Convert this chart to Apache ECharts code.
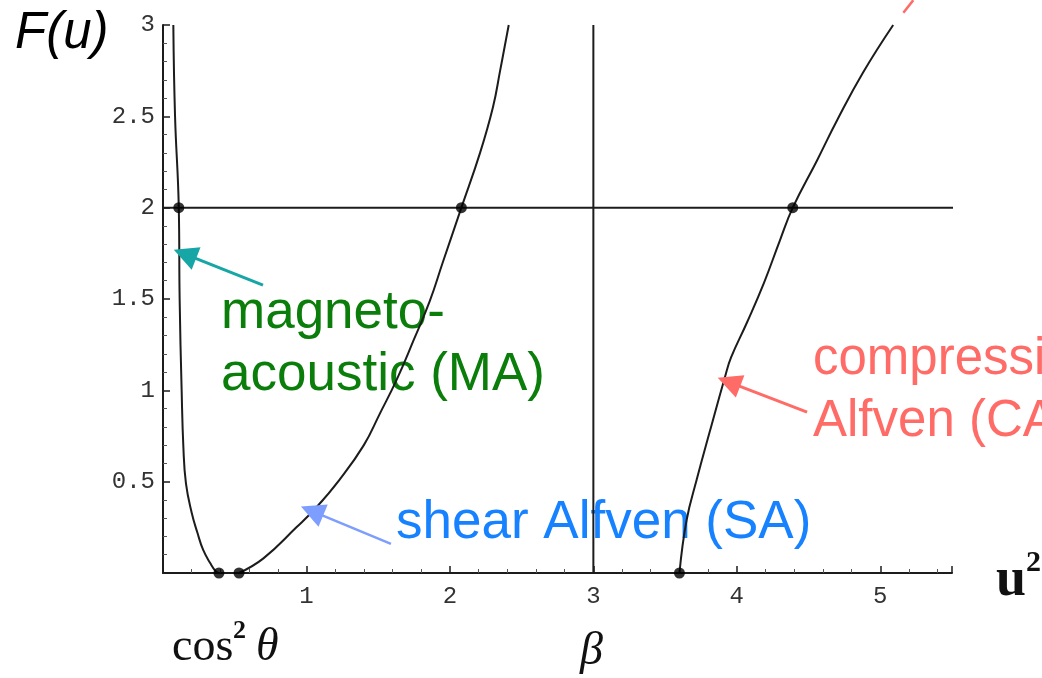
<!DOCTYPE html>
<html>
<head>
<meta charset="utf-8">
<script src="https://cdn.jsdelivr.net/npm/echarts@6/dist/echarts.min.js"></script>
<style>
  html, body { margin: 0; padding: 0; background: #fff; }
  #chart { width: 1042px; height: 678px; }
</style>
</head>
<body>
<div id="chart"></div>
<script>
// Dispersion function F(u) against u^2 — three wave branches.
const maCurve = [[0.072, 3.0], [0.084, 2.5], [0.11, 2.0], [0.116, 1.5], [0.13, 1.0], [0.142, 0.69],
  [0.16, 0.49], [0.20, 0.33], [0.24, 0.22], [0.28, 0.126], [0.33, 0.053], [0.37, 0.007], [0.39, 0]];
const saCurve = [[0.53, 0], [0.70, 0.08], [0.93, 0.25], [1.07, 0.36], [1.23, 0.51], [1.40, 0.70],
  [1.51, 0.87], [1.63, 1.06], [1.75, 1.28], [1.86, 1.49], [1.95, 1.70], [2.08, 2.0], [2.21, 2.30],
  [2.30, 2.55], [2.35, 2.75], [2.41, 3.0]];
const caCurve = [[3.60, 0], [3.65, 0.29], [3.72, 0.51], [3.81, 0.77], [3.92, 1.08], [3.96, 1.18],
  [4.07, 1.37], [4.19, 1.59], [4.30, 1.82], [4.39, 2.0], [4.56, 2.26], [4.70, 2.48], [4.88, 2.74], [5.09, 3.0]];
const keyPoints = [[0.39, 0], [0.53, 0], [3.60, 0], [0.11, 2], [2.08, 2], [4.39, 2]];
const betaValue = 3;
const fLevel = 2;
const xTicks = [0, 1, 2, 3, 4, 5];
const yTicks = [0, 0.5, 1, 1.5, 2, 2.5, 3];

// Annotation arrows: [tail, head] in data coordinates
const maArrow = [[0.697, 1.576], [0.153, 1.746]];
const saArrow = [[1.589, 0.159], [1.039, 0.339]];
const caArrow = [[4.49, 0.881], [3.945, 1.045]];
const topArrowPiece = [[5.161, 3.067], [5.23, 3.136]];

const ink = '#1c1c1c';
const monoLabel = { fontFamily: '"Liberation Mono", monospace', fontSize: 24, color: '#333' };

function curveSeries(data) {
  return {
    type: 'line', data: data, smooth: 0.45, showSymbol: false,
    lineStyle: { color: ink, width: 2 }, silent: true
  };
}
function arrowLine(pair, color, width, size) {
  return [
    { coord: pair[0], symbol: 'none', lineStyle: { color: color, width: width, type: 'solid' } },
    { coord: pair[1], symbol: 'triangle', symbolSize: size,
      itemStyle: { color: color }, lineStyle: { color: color, width: width, type: 'solid' } }
  ];
}

const chart = echarts.init(document.getElementById('chart'), null, { renderer: 'canvas' });

chart.setOption({
  animation: false,
  backgroundColor: '#ffffff',
  grid: { left: 163, right: 90, top: 25, bottom: 105 },
  xAxis: {
    type: 'value', min: xTicks[0], max: 5.5, interval: 1,
    axisLine: { show: true, lineStyle: { color: ink, width: 2 } },
    axisTick: { show: true, inside: true, length: 7, lineStyle: { color: ink, width: 1.5 } },
    minorTick: { show: true, splitNumber: 5, length: 4, lineStyle: { color: '#555', width: 1 } },
    splitLine: { show: false },
    axisLabel: Object.assign({ showMinLabel: false, showMaxLabel: false, margin: 12 }, monoLabel)
  },
  yAxis: {
    type: 'value', min: yTicks[0], max: yTicks[yTicks.length - 1], interval: 0.5,
    axisLine: { show: true, lineStyle: { color: ink, width: 2 } },
    axisTick: { show: true, inside: true, length: 7, lineStyle: { color: ink, width: 1.5 } },
    minorTick: { show: true, splitNumber: 5, length: 4, lineStyle: { color: '#555', width: 1 } },
    splitLine: { show: false },
    axisLabel: Object.assign({ showMinLabel: false, margin: 8 }, monoLabel)
  },
  series: [
    curveSeries(maCurve),
    curveSeries(saCurve),
    curveSeries(caCurve),
    {
      type: 'line', data: [[0, fLevel], [5.52, fLevel]], showSymbol: false, clip: false,
      lineStyle: { color: ink, width: 2 }, silent: true,
      markLine: {
        silent: true, animation: false, label: { show: false },
        lineStyle: { type: 'solid' },
        emphasis: { disabled: true },
        data: [
          arrowLine(maArrow, '#17a6a6', 3, 24),
          arrowLine(saArrow, '#7d9dff', 2.5, 24),
          arrowLine(caArrow, '#ff6b66', 3, 24)
        ]
      }
    },
    {
      type: 'line', data: [[betaValue, 0], [betaValue, 3]], showSymbol: false,
      lineStyle: { color: ink, width: 2 }, silent: true
    },
    {
      type: 'line', data: topArrowPiece, showSymbol: false, clip: false,
      lineStyle: { color: '#ff6b66', width: 2.5 }, silent: true
    },
    {
      type: 'scatter', data: keyPoints, symbolSize: 11,
      itemStyle: { color: '#000' }, silent: true, z: 5
    }
  ],
  graphic: [
    { type: 'text', x: 15, y: 34, style: { text: 'F(u)', font: 'italic 51px "Liberation Sans"', fill: '#000', verticalAlign: 'middle' } },
    { type: 'text', x: 221, y: 313, style: { text: 'magneto-', font: '53px "Liberation Sans"', fill: '#0a7d0a', verticalAlign: 'middle' } },
    { type: 'text', x: 221, y: 375, style: { text: 'acoustic (MA)', font: '53px "Liberation Sans"', fill: '#0a7d0a', verticalAlign: 'middle' } },
    { type: 'text', x: 396, y: 523, style: { text: 'shear Alfven (SA)', font: '53px "Liberation Sans"', fill: '#1682ff', verticalAlign: 'middle' } },
    { type: 'text', x: 813, y: 360, style: { text: 'compressional', font: '51px "Liberation Sans"', fill: '#ff6b66', verticalAlign: 'middle' } },
    { type: 'text', x: 813, y: 422, style: { text: 'Alfven (CA)', font: '51px "Liberation Sans"', fill: '#ff6b66', verticalAlign: 'middle' } },
    { type: 'text', x: 172, y: 648, style: { text: 'cos', font: '46px "Liberation Serif"', fill: '#111', verticalAlign: 'middle' } },
    { type: 'text', x: 233, y: 631, style: { text: '2', font: 'bold 26px "Liberation Serif"', fill: '#111', verticalAlign: 'middle' } },
    { type: 'text', x: 256, y: 648, style: { text: 'θ', font: 'italic 46px "Liberation Serif"', fill: '#111', verticalAlign: 'middle' } },
    { type: 'text', x: 580, y: 652, style: { text: 'β', font: 'italic 46px "Liberation Serif"', fill: '#111', verticalAlign: 'middle' } },
    { type: 'text', x: 996, y: 581, style: { text: 'u', font: 'bold 54px "Liberation Serif"', fill: '#111', verticalAlign: 'middle' } },
    { type: 'text', x: 1026, y: 563, style: { text: '2', font: 'bold 30px "Liberation Serif"', fill: '#111', verticalAlign: 'middle' } }
  ]
});
</script>
</body>
</html>
